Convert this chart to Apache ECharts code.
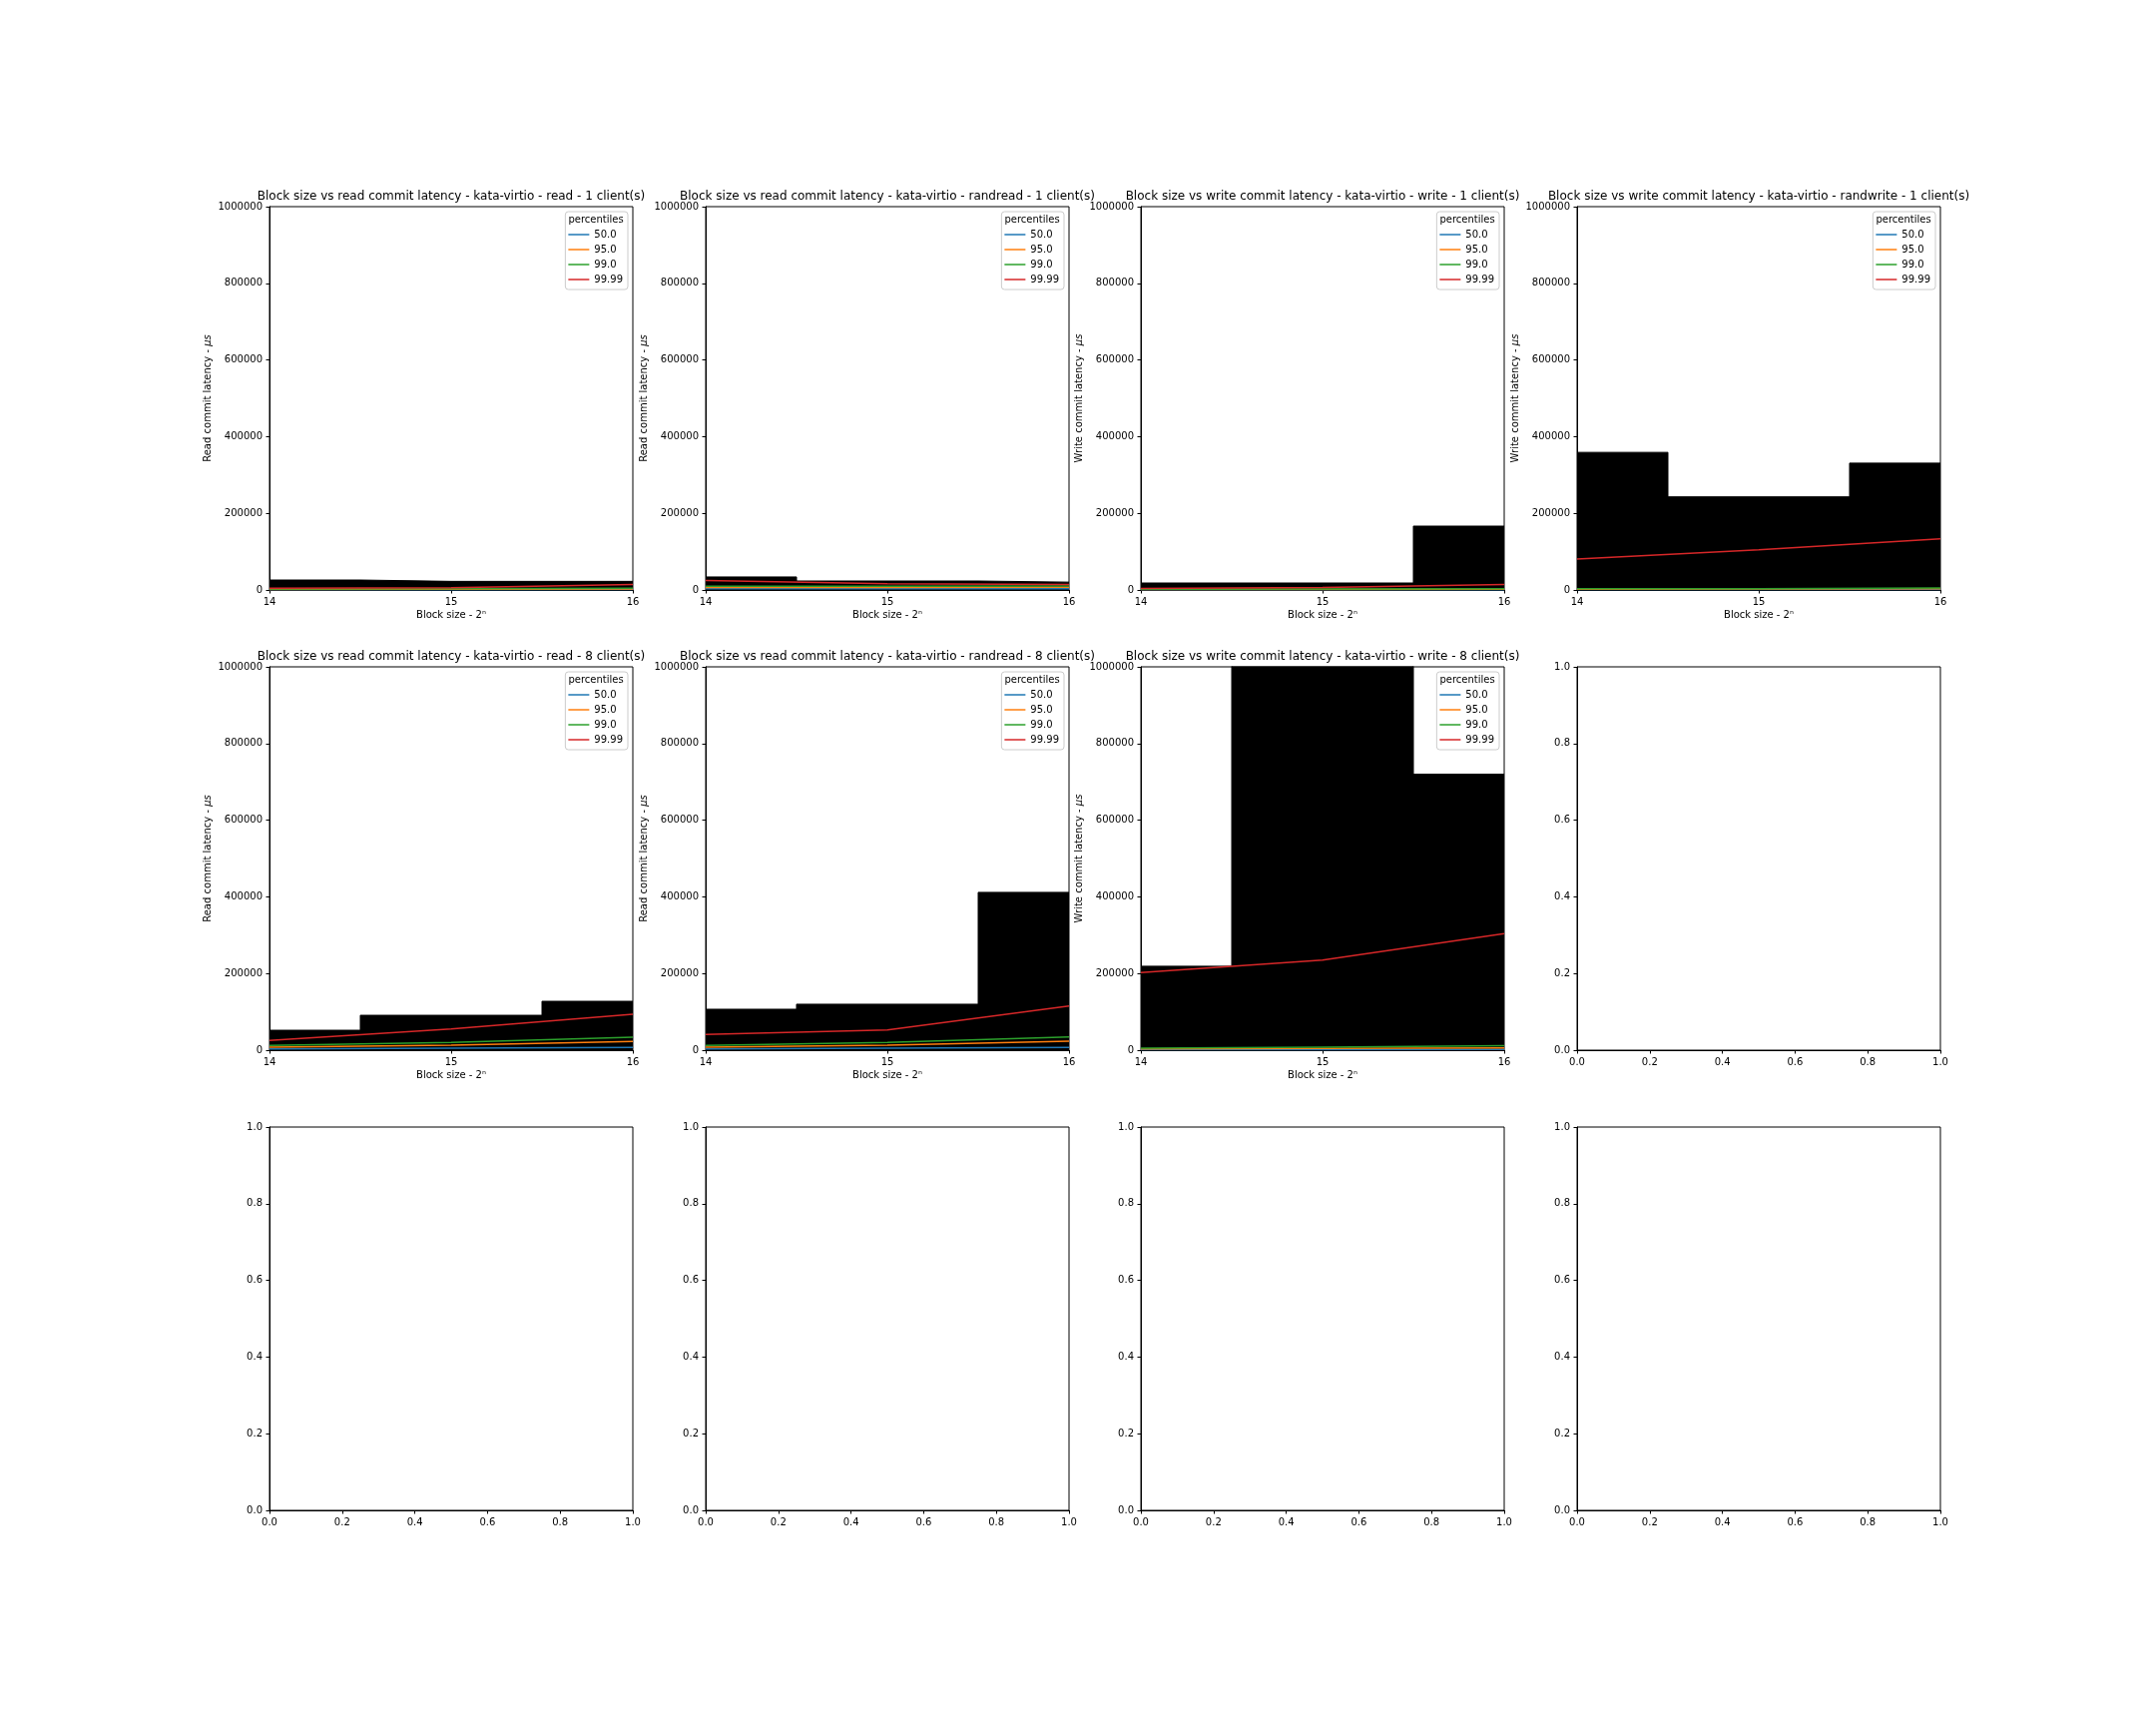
<!DOCTYPE html>
<html><head><meta charset="utf-8">
<script src="https://cdn.jsdelivr.net/npm/echarts@6/dist/echarts.min.js"></script>
<style>html,body{margin:0;padding:0;background:#fff}#c{width:2160px;height:1728px}</style>
</head><body><div id="c"></div>
<script>
// ---------- data ----------
const blockSizes = [14, 15, 16];
const panelTitles = [
  'Block size vs read commit latency - kata-virtio - read - 1 client(s)',
  'Block size vs read commit latency - kata-virtio - randread - 1 client(s)',
  'Block size vs write commit latency - kata-virtio - write - 1 client(s)',
  'Block size vs write commit latency - kata-virtio - randwrite - 1 client(s)',
  'Block size vs read commit latency - kata-virtio - read - 8 client(s)',
  'Block size vs read commit latency - kata-virtio - randread - 8 client(s)',
  'Block size vs write commit latency - kata-virtio - write - 8 client(s)'
];
const panelYKinds = ['Read', 'Read', 'Write', 'Write', 'Read', 'Read', 'Write'];
const percentileNames = ['50.0', '95.0', '99.0', '99.99'];
const percentileColors = ['#1f77b4', '#ff7f0e', '#2ca02c', '#d62728'];
// black step band (max latency) per panel
const maxFill = [
  [26000, 22500, 22500],
  [34000, 23400, 20500],
  [18200, 18200, 166600],
  [359000, 243000, 331000],
  [52000, 91000, 127500],
  [106800, 119900, 411700],
  [219000, 1200000, 720000]
];
const p50 = [
  [600, 800, 1000],
  [3000, 3200, 3400],
  [500, 600, 800],
  [1000, 1200, 1500],
  [3400, 5000, 7000],
  [3400, 5000, 7000],
  [1000, 1500, 2000]
];
const p95 = [
  [1500, 1800, 2400],
  [6500, 6500, 7000],
  [1200, 1500, 2000],
  [2000, 2500, 3000],
  [7800, 13000, 22600],
  [7800, 13000, 23400],
  [3000, 4500, 6000]
];
const p99 = [
  [2500, 3000, 4500],
  [10000, 9500, 10500],
  [2000, 2500, 3500],
  [3000, 3500, 5000],
  [12200, 20000, 34000],
  [12200, 20000, 34700],
  [5000, 8000, 12000]
];
const p9999 = [
  [4500, 6000, 14500],
  [25000, 16500, 14000],
  [4000, 6500, 14500],
  [80500, 105000, 133500],
  [25200, 55600, 93800],
  [40900, 53000, 115500],
  [202500, 235300, 304000]
];
const percentileData = [p50, p95, p99, p9999];
const latencyMax = 1000000, latencyStep = 200000;
const blankMax = 1, blankStep = 0.2;

// ---------- layout ----------
const FONT = 'DejaVu Sans';
const colLeft = [270, 707, 1143, 1580];
const rowTop = [207, 668, 1129];
const GW = 364, GH = 384;

const grid = [], xAxis = [], yAxis = [], series = [], legend = [], graphic = [];
const axisCommon = {
  axisLine: { show: true, lineStyle: { color: '#000', width: 1 } },
  axisTick: { show: true, inside: false, length: 3.5, lineStyle: { color: '#000', width: 1 } },
  splitLine: { show: false },
  axisLabel: { fontSize: 10, color: '#000', fontFamily: FONT, margin: 7, showMinLabel: true, showMaxLabel: true }
};

for (let i = 0; i < 12; i++) {
  const r = Math.floor(i / 4), c = i % 4;
  const x0 = colLeft[c], y0 = rowTop[r];
  grid.push({ left: x0, top: y0, width: GW, height: GH, show: true, borderColor: '#000', borderWidth: 1, backgroundColor: 'transparent', containLabel: false });
  const isData = i < panelTitles.length;
  if (isData) {
    xAxis.push(Object.assign({}, axisCommon, {
      gridIndex: i, type: 'value', min: blockSizes[0], max: blockSizes[blockSizes.length - 1], interval: 1,
      axisLabel: Object.assign({}, axisCommon.axisLabel, { formatter: v => String(v) }),
      name: 'Block size - 2ⁿ', nameLocation: 'middle', nameGap: 20,
      nameTextStyle: { fontSize: 10, color: '#000', fontFamily: FONT }
    }));
    yAxis.push(Object.assign({}, axisCommon, {
      gridIndex: i, type: 'value', min: 0, max: latencyMax, interval: latencyStep,
      axisLabel: Object.assign({}, axisCommon.axisLabel, { formatter: v => String(v) }),
      name: panelYKinds[i] + ' commit latency - {i|μs}', nameLocation: 'middle', nameGap: 57, nameRotate: 90,
      nameTextStyle: { fontSize: 10, color: '#000', fontFamily: FONT, rich: { i: { fontSize: 10, fontStyle: 'italic', color: '#000', fontFamily: FONT } } }
    }));
    // black band
    series.push({
      type: 'line', name: 'range', xAxisIndex: i, yAxisIndex: i, step: 'middle', symbol: 'none', silent: true,
      clip: true, animation: false,
      data: blockSizes.map((b, k) => [b, maxFill[i][k]]),
      lineStyle: { color: '#000', width: 1 }, areaStyle: { color: '#000', opacity: 1 }, z: 1
    });
    percentileNames.forEach((pn, p) => {
      series.push({
        type: 'line', name: pn, xAxisIndex: i, yAxisIndex: i, symbol: 'none', showSymbol: false, silent: true, clip: true, animation: false,
        data: blockSizes.map((b, k) => [b, percentileData[p][i][k]]),
        lineStyle: { color: percentileColors[p], width: 1.5 }, itemStyle: { color: percentileColors[p] }, z: 3
      });
    });
    legend.push({
      show: true, orient: 'vertical', right: 2160 - (x0 + GW - 5), top: y0 + 5,
      data: percentileNames.map((n, p) => ({ name: n, icon: 'rect', itemStyle: { color: percentileColors[p] } })),
      itemWidth: 21, itemHeight: 1.5, itemGap: 3, itemTextGap: 8,
      padding: [17, 5, 4, 3], borderColor: '#cccccc', borderWidth: 1, borderRadius: 3,
      backgroundColor: 'rgba(255,255,255,0.8)', selectedMode: false, z: 10,
      textStyle: { fontSize: 10, color: '#000', lineHeight: 12, fontFamily: FONT }
    });
    graphic.push({
      type: 'text', x: x0 + GW / 2, y: y0 - 4, z: 20,
      style: { text: panelTitles[i], fontSize: 12, fontFamily: FONT, fill: '#000', align: 'center', verticalAlign: 'bottom' }
    });
    graphic.push({
      type: 'text', x: x0 + GW - 5 - 32, y: y0 + 13, z: 20,
      style: { text: 'percentiles', fontSize: 10, fontFamily: FONT, fill: '#000', align: 'center', verticalAlign: 'middle' }
    });
  } else {
    const fmt = v => Number(v).toFixed(1);
    xAxis.push(Object.assign({}, axisCommon, {
      gridIndex: i, type: 'value', min: 0, max: blankMax, interval: blankStep,
      axisLabel: Object.assign({}, axisCommon.axisLabel, { formatter: fmt })
    }));
    yAxis.push(Object.assign({}, axisCommon, {
      gridIndex: i, type: 'value', min: 0, max: blankMax, interval: blankStep,
      axisLabel: Object.assign({}, axisCommon.axisLabel, { formatter: fmt })
    }));
  }
}

const chart = echarts.init(document.getElementById('c'), null, { renderer: 'canvas' });
chart.setOption({
  backgroundColor: '#ffffff',
  animation: false,
  textStyle: { fontFamily: FONT },
  grid, xAxis, yAxis, series, legend, graphic
});
</script>
</body></html>
